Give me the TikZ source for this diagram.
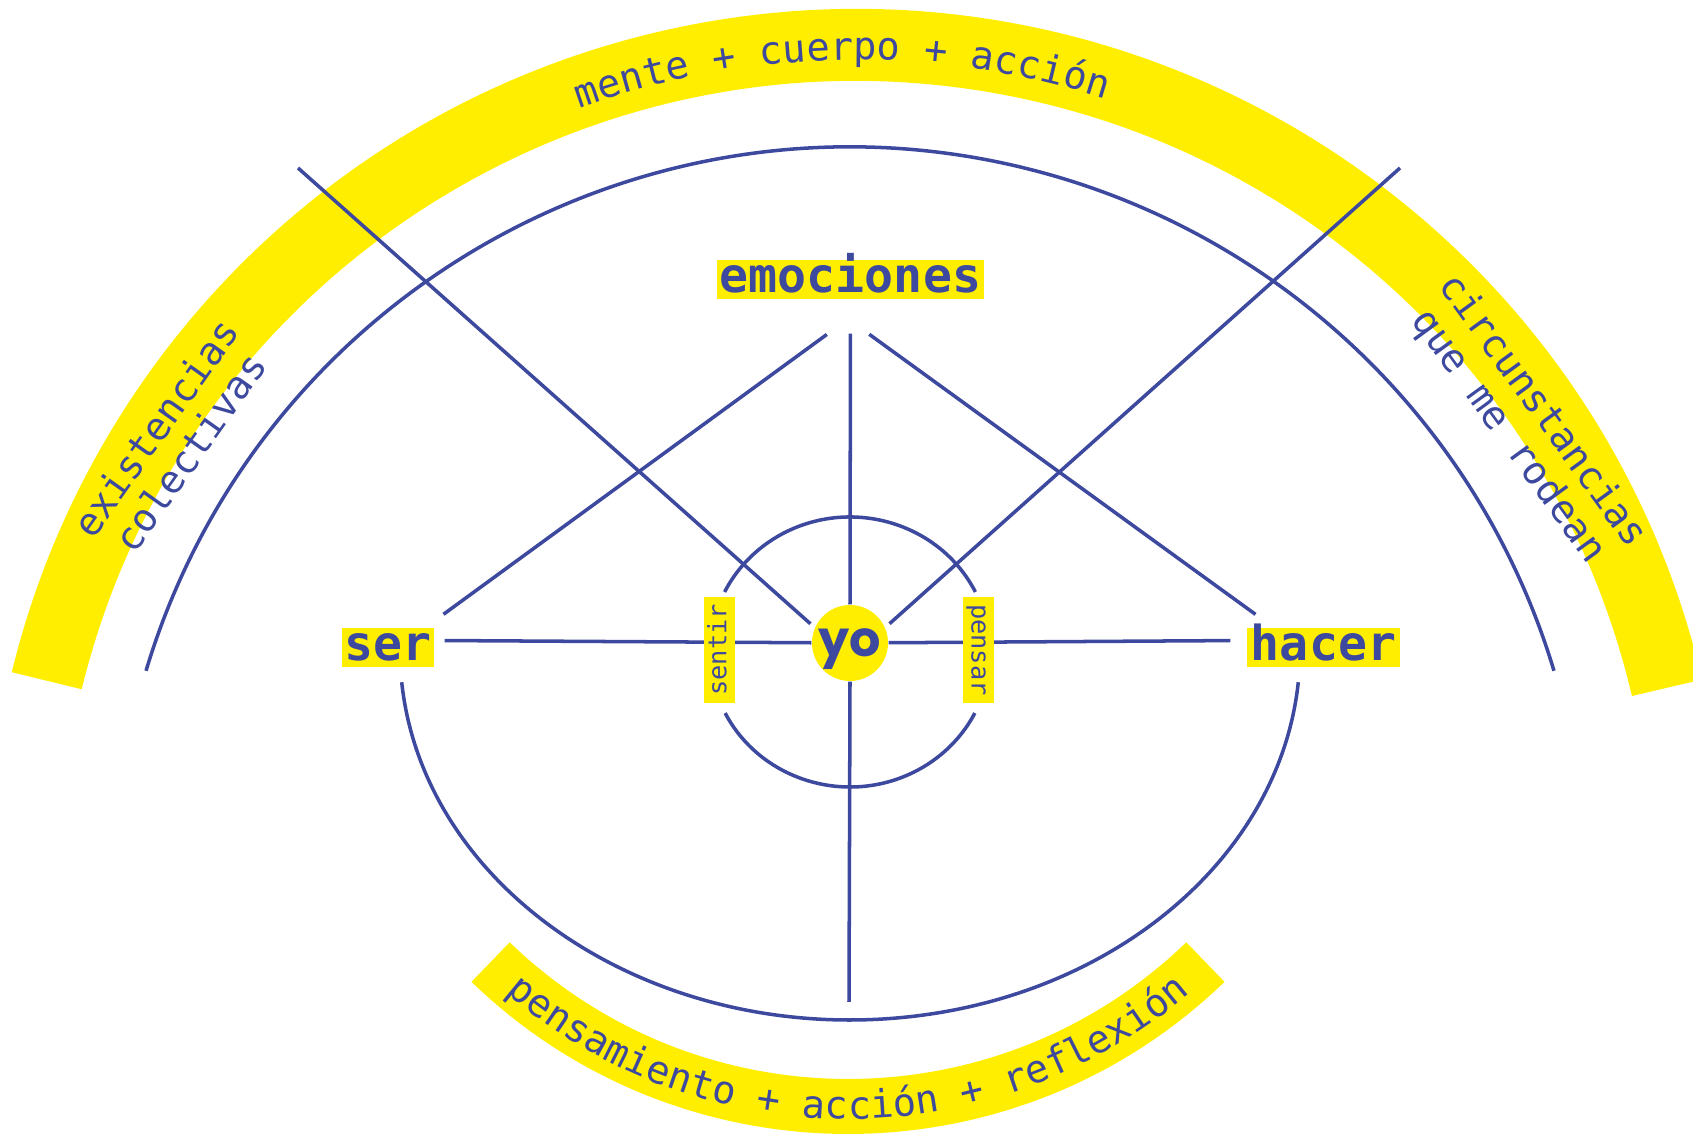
\documentclass[tikz,border=0pt]{standalone}
\usepackage{fontspec}
\setmonofont{DejaVu Sans Mono}
\newfontfamily\yofont{Poppins}
\usetikzlibrary{decorations.text}
\definecolor{ink}{RGB}{61,73,158}
\definecolor{lemon}{RGB}{255,238,0}
\newdimen\pxu \pxu=0.01cm
\pgfdeclarelayer{bands}
\pgfdeclarelayer{lines}
\pgfsetlayers{bands,lines,main}
\begin{document}
\begin{tikzpicture}[x=0.01cm, y=0.01cm,
  link/.style={draw=ink, line width=1pt},
  boxlbl/.style={fill=lemon, text=ink, inner sep=0pt, font=\ttfamily\bfseries\fontsize{13.7pt}{14pt}\selectfont, minimum height=39\pxu, text height=7.5pt, text depth=0pt},
  vlbl/.style={fill=lemon, text=ink, inner sep=0pt, font=\ttfamily\fontsize{7.2pt}{8pt}\selectfont, minimum width=106\pxu, minimum height=31\pxu, text height=3.9pt, text depth=0pt},
  sidelbl/.style={text=ink, align=center, inner sep=0pt, font=\ttfamily\fontsize{11pt}{12pt}\selectfont},
  arctext/.style={decorate, decoration={text along path, text align=center, text color=ink, text={|\ttfamily\fontsize{11pt}{12pt}\selectfont|#1}}}]
\useasboundingbox (0,0) rectangle (1693,1137);
\clip (0,0) rectangle (1693,1137);
\node[boxlbl, minimum width=267\pxu] (emo) at (850.5,857.5) {emociones};
\node[boxlbl, minimum width=92\pxu] (ser) at (388,489.5) {ser};
\node[boxlbl, minimum width=153\pxu] (hacer) at (1323.5,489.5) {hacer};
\node[circle, fill=lemon, text=ink, minimum size=76\pxu, inner sep=0pt, font=\yofont\bfseries\fontsize{14pt}{15pt}\selectfont, text height=7.6pt, text depth=0pt] (yo) at (850,494) {yo};
\node[vlbl, rotate=90] (sentir) at (719.5,487) {sentir};
\node[vlbl, rotate=-90] (pensar) at (978.5,487) {pensar};
\node[sidelbl, rotate=54.7] (exist) at (172.5,697) {existencias\\colectivas};
\node[sidelbl, rotate=-54] (circ) at (1525,713) {circunstancias\\que me rodean};
\coordinate (nw) at (298,969);
\coordinate (ne) at (1400,969);
\coordinate (foot) at (849,135);
\begin{pgfonlayer}{bands}
\fill[lemon] (856,259) ++(13.2:869) arc[start angle=13.2, end angle=166.3, radius=869] -- ++(166.3:-72) arc[start angle=166.3, end angle=13.2, radius=797] -- cycle;
\fill[lemon] (848,545) ++(226:542) arc[start angle=226, end angle=314, radius=542] -- ++(314:-55) arc[start angle=314, end angle=226, radius=487] -- cycle;
\end{pgfonlayer}
\begin{pgfonlayer}{lines}
\draw[link, shorten <=34\pxu] (emo.south) -- (yo.north);
\draw[link] (yo.south) -- (foot);
\draw[link, shorten <=10\pxu] ([yshift=7\pxu]ser.east) -- (yo);
\draw[link, shorten >=16\pxu] (yo) -- ([yshift=7\pxu]hacer.west);
\draw[link, shorten <=59\pxu, shorten >=22\pxu] ([xshift=24\pxu]emo.south) -- ([xshift=-9\pxu]ser.north east);
\draw[link, shorten <=59\pxu, shorten >=22\pxu] ([xshift=-29\pxu]emo.south) -- ([xshift=27\pxu]hacer.north west);
\draw[link, shorten >=53\pxu] (nw) -- ([yshift=-16\pxu]yo.center);
\draw[link, shorten >=53\pxu] (ne) -- ([yshift=-16\pxu]yo.center);
\foreach \a/\b in {26.4/153.6, 206.9/333.1}
  \draw[link] ([yshift=-9\pxu]yo.center) ++(\a:140 and 135) arc[start angle=\a, end angle=\b, x radius=140, y radius=135];
\draw[link] ([yshift=-7\pxu]yo.center) ++(185:450 and 370) arc[start angle=185, end angle=355, x radius=450, y radius=370];
\draw[link] (850,255) ++(163.3:735) arc[start angle=163.3, end angle=16.7, radius=735];
\end{pgfonlayer}
\path[arctext={mente + cuerpo + acción}] (856,259) ++(151:818) arc[start angle=151, end angle=31, radius=818];
\path[arctext={pensamiento + acción + reflexión}] (848,545) ++(226:527) arc[start angle=226, end angle=314, radius=527];
\end{tikzpicture}
\end{document}
